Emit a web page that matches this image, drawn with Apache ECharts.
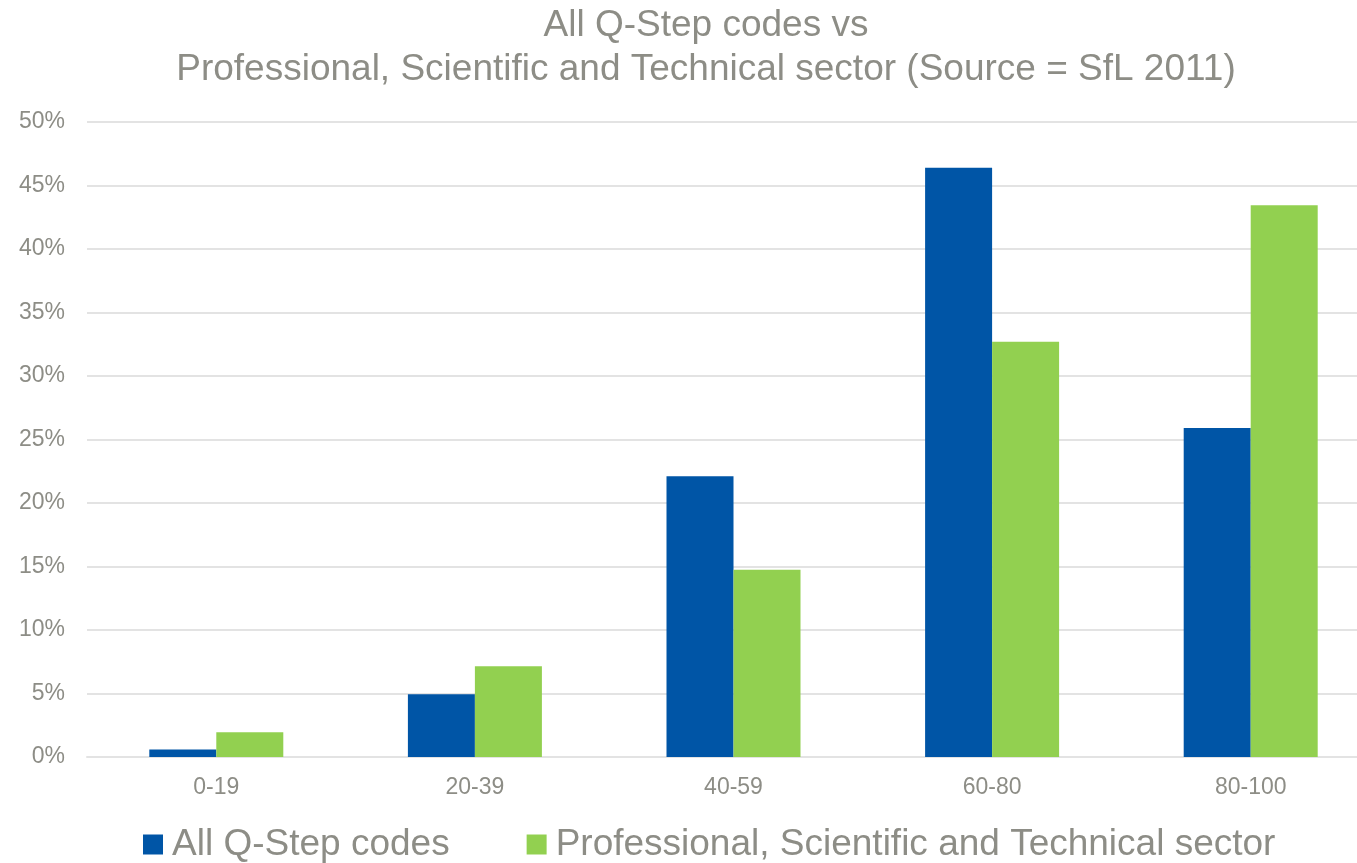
<!DOCTYPE html>
<html>
<head>
<meta charset="utf-8">
<script src="https://cdn.jsdelivr.net/npm/echarts@6/dist/echarts.min.js"></script>
<style>
html,body{margin:0;padding:0;background:#fff;overflow:hidden;width:1357px;height:863px;}
#chart{width:1380px;height:863px;}
</style>
</head>
<body>
<div id="chart"></div>
<script>
var categories = ['0-19', '20-39', '40-59', '60-80', '80-100'];
var allQStep = [0.6, 4.95, 22.1, 46.4, 25.9];
var profSci = [1.95, 7.15, 14.75, 32.7, 43.45];
var seriesNames = ['All Q-Step codes', 'Professional, Scientific and Technical sector'];
var titleText = 'All Q-Step codes vs\nProfessional, Scientific and Technical sector (Source = SfL 2011)';

var gray = '#8d8d86';
var font = 'Liberation Sans, Arial, sans-serif';
var chart = echarts.init(document.getElementById('chart'), null, {renderer: 'canvas'});
chart.setOption({
  animation: false,
  backgroundColor: '#ffffff',
  graphic: [{
    type: 'text',
    x: 706,
    y: 4,
    style: {
      text: titleText,
      textAlign: 'center',
      textVerticalAlign: 'top',
      fill: gray,
      font: '37px ' + font,
      lineHeight: 44
    }
  }],
  legend: {
    left: 143,
    bottom: 0,
    padding: 0,
    itemWidth: 20,
    itemHeight: 20,
    itemGap: 77,
    icon: 'rect',
    textStyle: {
      color: gray,
      fontFamily: font,
      fontSize: 37,
      padding: [0, 0, 0, 4]
    },
    data: seriesNames
  },
  grid: {
    left: 87,
    right: 0,
    top: 122,
    bottom: 106,
    containLabel: false
  },
  xAxis: {
    type: 'category',
    data: categories,
    axisLine: {show: true, lineStyle: {color: '#e3e3e3', width: 2}},
    axisTick: {show: false},
    axisLabel: {
      color: gray,
      fontFamily: font,
      fontSize: 23,
      margin: 19
    }
  },
  yAxis: {
    type: 'value',
    min: 0,
    max: 50,
    interval: 5,
    axisLine: {show: false},
    axisTick: {show: false},
    splitLine: {lineStyle: {color: '#e3e3e3', width: 2}},
    axisLabel: {
      color: gray,
      fontFamily: font,
      fontSize: 23,
      margin: 22,
      padding: [3, 0, 0, 0],
      formatter: '{value}%'
    }
  },
  series: [
    {
      name: seriesNames[0],
      type: 'bar',
      data: allQStep,
      barWidth: 67,
      barGap: '0%',
      itemStyle: {color: '#0055a6'}
    },
    {
      name: seriesNames[1],
      type: 'bar',
      data: profSci,
      barWidth: 67,
      barGap: '0%',
      itemStyle: {color: '#92d050'}
    }
  ]
});
</script>
</body>
</html>
